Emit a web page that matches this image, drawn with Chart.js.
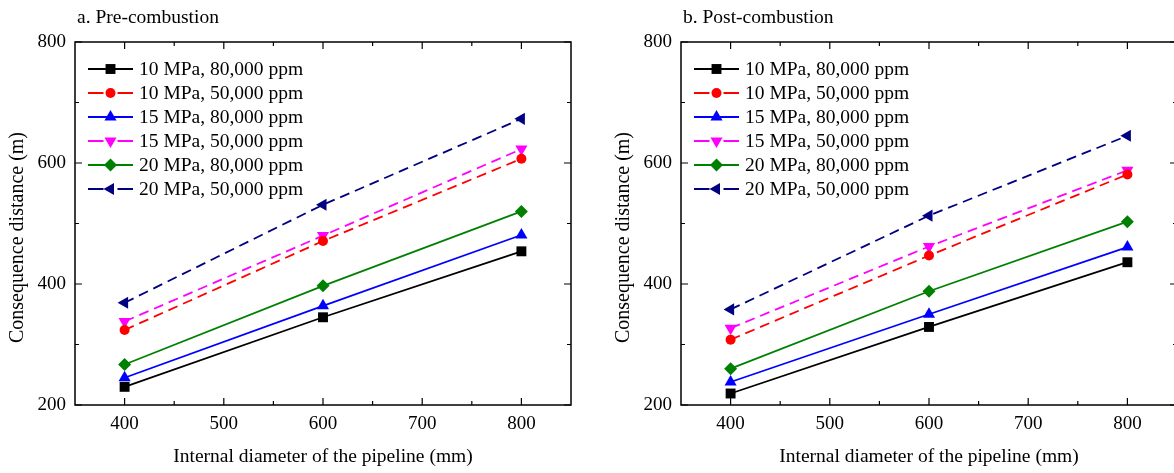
<!DOCTYPE html>
<html>
<head>
<meta charset="utf-8">
<script src="https://cdn.jsdelivr.net/npm/chart.js@4.4.1/dist/chart.umd.min.js"></script>
<style>
  html, body { margin: 0; padding: 0; background: #ffffff; overflow: hidden; width: 1174px; height: 473px; }
  #wrap { position: relative; width: 1174px; height: 473px; overflow: hidden; }
  .panel { position: absolute; top: 0; width: 600px; height: 473px; }
  #p1 { left: 0; }
  #p2 { left: 606px; }
</style>
</head>
<body>
<div id="wrap">
  <div class="panel" id="p1"><canvas id="c1" width="600" height="473"></canvas></div>
  <div class="panel" id="p2"><canvas id="c2" width="600" height="473"></canvas></div>
</div>
<script>
// ---------------- DATA ----------------
const diameters = [400, 600, 800];
const seriesLabels = [
  '10 MPa, 80,000 ppm',
  '10 MPa, 50,000 ppm',
  '15 MPa, 80,000 ppm',
  '15 MPa, 50,000 ppm',
  '20 MPa, 80,000 ppm',
  '20 MPa, 50,000 ppm'
];
// a. Pre-combustion
const pre_10MPa_80k = [230, 345, 454];
const pre_10MPa_50k = [324, 471, 607];
const pre_15MPa_80k = [245, 364, 481];
const pre_15MPa_50k = [338, 480, 623];
const pre_20MPa_80k = [267, 397, 520];
const pre_20MPa_50k = [369, 531, 673];
// b. Post-combustion
const post_10MPa_80k = [219, 329, 436];
const post_10MPa_50k = [308, 447, 581];
const post_15MPa_80k = [238, 350, 461];
const post_15MPa_50k = [327, 462, 588];
const post_20MPa_80k = [260, 388, 503];
const post_20MPa_50k = [358, 513, 645];
// ticks
const xMajorTicks = [400, 500, 600, 700, 800];
const xMinorTicks = [450, 550, 650, 750];
const yMajorTicks = [200, 400, 600, 800];
const yMinorTicks = [300, 500, 700];
const panelTitles = ['a. Pre-combustion', 'b. Post-combustion'];
const xAxisTitle = 'Internal diameter of the pipeline (mm)';
const yAxisTitle = 'Consequence distance (m)';

// ---------------- STYLES ----------------
const FONT = '"Liberation Serif", "Times New Roman", Times, serif';
const styles = [
  { color: '#000000', dash: [],      pointStyle: 'rect',     rotation: 0,   radius: 7 },
  { color: '#ff0000', dash: [10, 6], pointStyle: 'circle',   rotation: 0,   radius: 5 },
  { color: '#0000ff', dash: [],      pointStyle: 'triangle', rotation: 0,   radius: 7 },
  { color: '#ff00ff', dash: [10, 6], pointStyle: 'triangle', rotation: 180, radius: 7 },
  { color: '#008000', dash: [],      pointStyle: 'rectRot',  rotation: 0,   radius: 6.5 },
  { color: '#000080', dash: [10, 6], pointStyle: 'triangle', rotation: 270, radius: 7 }
];

function buildDatasets(seriesList) {
  return seriesList.map((vals, i) => ({
    label: seriesLabels[i],
    data: diameters.map((d, k) => ({ x: d, y: vals[k] })),
    borderColor: styles[i].color,
    backgroundColor: styles[i].color,
    borderWidth: 1.8,
    borderDash: styles[i].dash,
    pointStyle: styles[i].pointStyle,
    rotation: styles[i].rotation,
    pointRadius: styles[i].radius,
    pointHoverRadius: styles[i].radius,
    pointBorderWidth: 0,
    pointBackgroundColor: styles[i].color,
    tension: 0,
    fill: false
  }));
}

function drawMarker(ctx, st, x, y) {
  ctx.save();
  ctx.fillStyle = st.color;
  ctx.strokeStyle = st.color;
  ctx.setLineDash([]);
  if (Chart.helpers && Chart.helpers.drawPoint) {
    Chart.helpers.drawPoint(ctx, { pointStyle: st.pointStyle, rotation: st.rotation, radius: st.radius, borderWidth: 0 }, x, y);
  } else {
    ctx.beginPath();
    ctx.arc(x, y, st.radius, 0, Math.PI * 2);
    ctx.fill();
  }
  ctx.restore();
}

const framePlugin = {
  id: 'frameTicks',
  beforeDatasetsDraw(chart) {
    const ctx = chart.ctx;
    const a = chart.chartArea;
    const xs = chart.scales.x, ys = chart.scales.y;
    ctx.save();
    ctx.strokeStyle = '#000';
    ctx.lineWidth = 1.5;
    ctx.setLineDash([]);
    ctx.strokeRect(a.left, a.top, a.right - a.left, a.bottom - a.top);
    ctx.lineWidth = 1.2;
    ctx.beginPath();
    const tick = (vals, len, isX) => {
      vals.forEach(v => {
        if (isX) {
          const px = xs.getPixelForValue(v);
          ctx.moveTo(px, a.bottom); ctx.lineTo(px, a.bottom - len);
          ctx.moveTo(px, a.top); ctx.lineTo(px, a.top + len);
        } else {
          const py = ys.getPixelForValue(v);
          ctx.moveTo(a.left, py); ctx.lineTo(a.left + len, py);
          ctx.moveTo(a.right, py); ctx.lineTo(a.right - len, py);
        }
      });
    };
    tick(xMajorTicks, 7, true);
    tick(xMinorTicks, 4, true);
    tick(yMajorTicks, 7, false);
    tick(yMinorTicks, 4, false);
    ctx.stroke();
    ctx.restore();
  },
  afterDraw(chart) {
    const ctx = chart.ctx;
    const a = chart.chartArea;
    const o = chart.options.plugins.frameTicks;
    ctx.save();
    ctx.fillStyle = '#000';
    // panel title
    ctx.font = '19.5px ' + FONT;
    ctx.textAlign = 'left';
    ctx.textBaseline = 'alphabetic';
    ctx.fillText(o.title, a.left + 2, 23);
    // x axis title
    ctx.textAlign = 'center';
    ctx.textBaseline = 'middle';
    ctx.fillText(xAxisTitle, (a.left + a.right) / 2, 457);
    // y axis title
    ctx.save();
    ctx.font = '20px ' + FONT;
    ctx.translate(18, (a.top + a.bottom) / 2 + 14);
    ctx.rotate(-Math.PI / 2);
    ctx.fillText(yAxisTitle, 0, 0);
    ctx.restore();
    // legend
    chart.data.datasets.forEach((ds, i) => {
      const st = styles[i];
      const y = a.top + 27 + i * 24;
      const x0 = a.left + 13, x1 = a.left + 58, xm = a.left + 35.5;
      ctx.save();
      ctx.strokeStyle = st.color;
      ctx.lineWidth = 2;
      ctx.beginPath();
      if (st.dash.length) {
        ctx.moveTo(x0, y); ctx.lineTo(xm - 7, y);
        ctx.moveTo(xm + 7, y); ctx.lineTo(x1, y);
      } else {
        ctx.moveTo(x0, y); ctx.lineTo(x1, y);
      }
      ctx.stroke();
      ctx.restore();
      drawMarker(ctx, st, xm, y);
      ctx.fillStyle = '#000';
      ctx.font = '19.5px ' + FONT;
      ctx.textAlign = 'left';
      ctx.textBaseline = 'middle';
      ctx.fillText(ds.label, a.left + 64, y + 1);
    });
    ctx.restore();
  }
};

function makeChart(id, title, seriesList) {
  return new Chart(document.getElementById(id), {
    type: 'line',
    data: { datasets: buildDatasets(seriesList) },
    options: {
      responsive: false,
      animation: false,
      devicePixelRatio: 1,
      layout: { padding: { left: 0, right: 29, top: 42, bottom: 0 } },
      plugins: {
        legend: { display: false },
        tooltip: { enabled: false },
        frameTicks: { title: title }
      },
      scales: {
        x: {
          type: 'linear',
          min: 350,
          max: 850,
          grid: { display: false, drawTicks: false },
          border: { display: false },
          afterBuildTicks: s => { s.ticks = xMajorTicks.map(v => ({ value: v })); },
          afterFit: s => { s.height = 68; },
          ticks: {
            color: '#000',
            padding: 8,
            maxRotation: 0,
            autoSkip: false,
            font: { family: FONT, size: 19 }
          }
        },
        y: {
          type: 'linear',
          min: 200,
          max: 800,
          grid: { display: false, drawTicks: false },
          border: { display: false },
          afterBuildTicks: s => { s.ticks = yMajorTicks.map(v => ({ value: v })); },
          afterFit: s => { s.width = 75; },
          ticks: {
            color: '#000',
            padding: 9,
            autoSkip: false,
            font: { family: FONT, size: 19 }
          }
        }
      }
    },
    plugins: [framePlugin]
  });
}

makeChart('c1', panelTitles[0], [pre_10MPa_80k, pre_10MPa_50k, pre_15MPa_80k, pre_15MPa_50k, pre_20MPa_80k, pre_20MPa_50k]);
makeChart('c2', panelTitles[1], [post_10MPa_80k, post_10MPa_50k, post_15MPa_80k, post_15MPa_50k, post_20MPa_80k, post_20MPa_50k]);
</script>
</body>
</html>
